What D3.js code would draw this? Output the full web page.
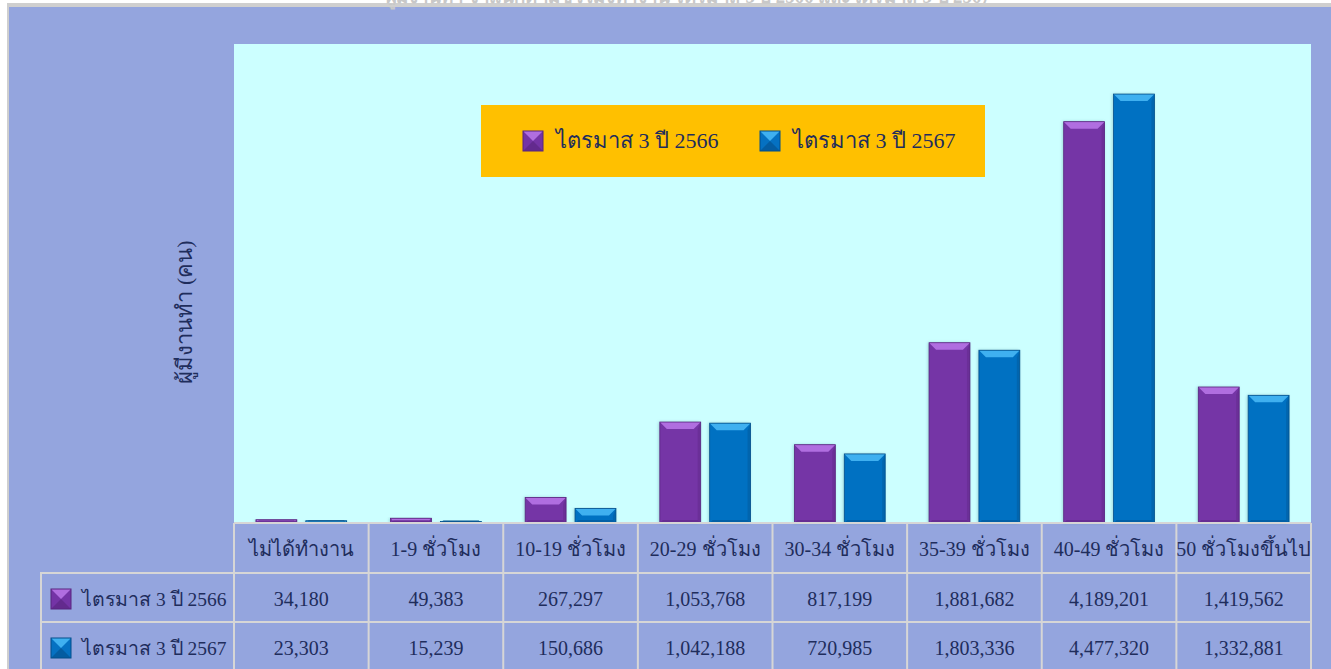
<!DOCTYPE html>
<html>
<head>
<meta charset="utf-8">
<script src="https://cdn.jsdelivr.net/npm/d3@7"></script>
<style>
  body { margin: 0; background: #fff; }
  svg text { font-family: "Liberation Serif", "Times New Roman", serif; fill: #1f2d5c; }
</style>
</head>
<body>
<svg id="chart" width="1331" height="669"></svg>
<script>
const categories = ["ไม่ได้ทำงาน", "1-9 ชั่วโมง", "10-19 ชั่วโมง", "20-29 ชั่วโมง",
  "30-34 ชั่วโมง", "35-39 ชั่วโมง", "40-49 ชั่วโมง", "50 ชั่วโมงขึ้นไป"];
const seriesNames = ["ไตรมาส 3 ปี 2566", "ไตรมาส 3 ปี 2567"];
const q3_2566 = [34180, 49383, 267297, 1053768, 817199, 1881682, 4189201, 1419562];
const q3_2567 = [23303, 15239, 150686, 1042188, 720985, 1803336, 4477320, 1332881];
const yMax = 5000000;

const W = 1331, H = 669;
const plot = { left: 234, right: 1311, top: 44, bottom: 523 };
const colors = {
  [seriesNames[0]]: { base: "#7434a6", light: "#b06ee0", dark: "#58257f" },
  [seriesNames[1]]: { base: "#0571c2", light: "#3fb0f0", dark: "#034f8a" }
};
const gridColor = "#d6d6d6";

const svg = d3.select("#chart");

// outer background + border
svg.append("rect").attr("x", 8).attr("y", 4).attr("width", W).attr("height", H)
  .attr("fill", "#94a5de").attr("stroke", "#cfcfcf").attr("stroke-width", 2);

// title, cut off above the frame as in the source image
svg.append("text").attr("x", 688).attr("y", 3).attr("text-anchor", "middle")
  .attr("textLength", 605).attr("lengthAdjust", "spacingAndGlyphs")
  .style("font-size", "24px").style("font-weight", "bold").style("fill", "#c8c8c8")
  .text("ผู้มีงานทำ จำแนกตามชั่วโมงทำงาน ไตรมาส 3 ปี 2566 และไตรมาส 3 ปี 2567");
svg.append("rect").attr("x", 8).attr("y", 5).attr("width", W).attr("height", 2).attr("fill", "#cfcfcf");

// plot area
svg.append("rect").attr("x", plot.left).attr("y", plot.top)
  .attr("width", plot.right - plot.left).attr("height", plot.bottom - plot.top)
  .attr("fill", "#ccffff");

const x = d3.scaleBand().domain(categories).range([plot.left, plot.right]);
const xs = d3.scaleBand().domain(seriesNames).range([0, x.bandwidth()])
  .paddingInner(0.18).paddingOuter(0.44);
const y = d3.scaleLinear().domain([0, yMax]).range([plot.bottom, plot.top]);

const defs = svg.append("defs");
const f = defs.append("filter").attr("id", "shadow").attr("x", "-30%").attr("y", "-10%")
  .attr("width", "160%").attr("height", "120%");
f.append("feDropShadow").attr("dx", -1).attr("dy", 0).attr("stdDeviation", 1.5)
  .attr("flood-color", "#2a6a7a").attr("flood-opacity", 0.35);

const rows = categories.map((c, i) => ({ cat: c, vals: [q3_2566[i], q3_2567[i]] }));

function bevelBar(g, bx, by, bw, bh, c) {
  const b = Math.min(7, bh / 2);
  g.append("rect").attr("x", bx).attr("y", by).attr("width", bw).attr("height", bh)
    .attr("fill", c.base).attr("filter", "url(#shadow)");
  g.append("path").attr("fill", c.light)
    .attr("d", `M${bx},${by}H${bx + bw}L${bx + bw - b},${by + b}H${bx + b}Z`);
  g.append("path").attr("fill", c.dark).attr("opacity", 0.35)
    .attr("d", `M${bx + bw},${by}V${by + bh}L${bx + bw - 3},${by + bh - 3}V${by + b}Z`);
  g.append("path").attr("fill", c.dark).attr("opacity", 0.5)
    .attr("d", `M${bx},${by + bh}H${bx + bw}L${bx + bw - 3},${by + bh - 3}H${bx + 3}Z`);
  g.append("rect").attr("x", bx).attr("y", by).attr("width", bw).attr("height", bh)
    .attr("fill", "none").attr("stroke", c.dark).attr("stroke-width", 0.8);
}

const groups = svg.append("g").selectAll("g").data(rows).join("g")
  .attr("transform", d => `translate(${x(d.cat)},0)`);
groups.each(function (d) {
  const g = d3.select(this);
  d.vals.forEach((v, i) => {
    const s = seriesNames[i];
    bevelBar(g, xs(s), y(v), xs.bandwidth(), y(0) - y(v), colors[s]);
  });
});

function swatch(g, sx, sy, size, c) {
  const m = size / 2;
  g.append("path").attr("fill", c.base).attr("d", `M${sx},${sy}H${sx + size}V${sy + size}H${sx}Z`);
  g.append("path").attr("fill", c.light).attr("d", `M${sx},${sy}H${sx + size}L${sx + m},${sy + m}Z`);
  g.append("path").attr("fill", c.dark).attr("opacity", 0.6)
    .attr("d", `M${sx},${sy + size}H${sx + size}L${sx + m},${sy + m}Z`);
  g.append("rect").attr("x", sx).attr("y", sy).attr("width", size).attr("height", size)
    .attr("fill", "none").attr("stroke", c.dark).attr("stroke-width", 1);
}

// legend
const legend = svg.append("g");
legend.append("rect").attr("x", 481).attr("y", 105).attr("width", 504).attr("height", 72)
  .attr("fill", "#ffc000");
[[523, 556], [760, 793]].forEach(([sx, tx], i) => {
  swatch(legend, sx, 131, 20, colors[seriesNames[i]]);
  legend.append("text").attr("x", tx).attr("y", 148).style("font-size", "22px").text(seriesNames[i]);
});

// y axis title
svg.append("text").attr("transform", "translate(192,312) rotate(-90)")
  .attr("text-anchor", "middle").style("font-size", "22px").text("ผู้มีงานทำ (คน)");

// data table
const rowY = [523, 573, 622, 671];
const table = svg.append("g");
table.selectAll("line.v").data(d3.range(categories.length + 1)).join("line")
  .attr("x1", i => plot.left + i * x.step()).attr("x2", i => plot.left + i * x.step())
  .attr("y1", rowY[0]).attr("y2", H)
  .attr("stroke", gridColor).attr("stroke-width", 2);
table.append("line").attr("x1", 41).attr("x2", 41).attr("y1", rowY[1]).attr("y2", H)
  .attr("stroke", gridColor).attr("stroke-width", 2);
table.append("line").attr("x1", plot.left).attr("x2", plot.right).attr("y1", rowY[0]).attr("y2", rowY[0])
  .attr("stroke", gridColor).attr("stroke-width", 2);
[rowY[1], rowY[2]].forEach(ry => table.append("line").attr("x1", 40).attr("x2", plot.right)
  .attr("y1", ry).attr("y2", ry).attr("stroke", gridColor).attr("stroke-width", 2));

table.selectAll("text.cat").data(categories).join("text")
  .attr("x", d => x(d) + x.bandwidth() / 2).attr("y", 556).attr("text-anchor", "middle")
  .style("font-size", "20px").text(d => d);

const fmt = d3.format(",");
[q3_2566, q3_2567].forEach((vals, r) => {
  const ty = rowY[r + 1] + 33;
  swatch(table, 51, rowY[r + 1] + 16, 20, colors[seriesNames[r]]);
  table.append("text").attr("x", 82).attr("y", ty).style("font-size", "19.5px").text(seriesNames[r]);
  table.selectAll(null).data(vals).join("text")
    .attr("x", (d, i) => x(categories[i]) + x.bandwidth() / 2).attr("y", ty)
    .attr("text-anchor", "middle").style("font-size", "20px").text(d => fmt(d));
});
</script>
</body>
</html>
